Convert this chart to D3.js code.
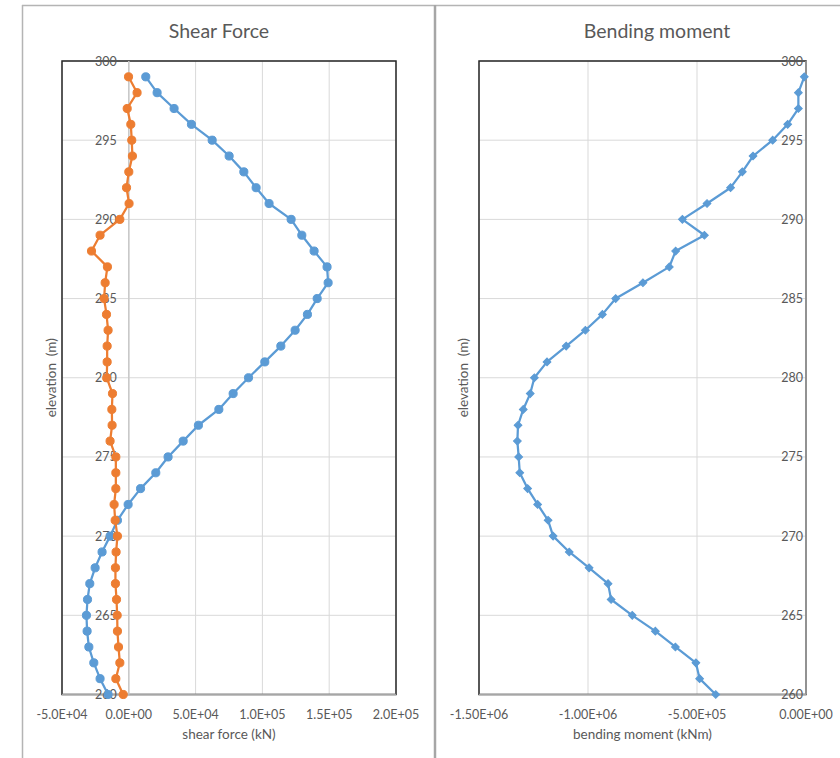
<!DOCTYPE html>
<html>
<head>
<meta charset="utf-8">
<script src="https://cdn.jsdelivr.net/npm/d3@7"></script>
<style>
  html, body { margin: 0; padding: 0; background: #fff; }
  svg { display: block; font-family: Lato, "Open Sans", sans-serif; }
</style>
</head>
<body>
<svg id="chart" width="840" height="758"></svg>
<script>
// Elevation of each computed station (m)
const elevations = [299, 298, 297, 296, 295, 294, 293, 292, 291, 290,
                    289, 288, 287, 286, 285, 284, 283, 282, 281, 280,
                    279, 278, 277, 276, 275, 274, 273, 272, 271, 270,
                    269, 268, 267, 266, 265, 264, 263, 262, 261, 260];

// Shear force along the wall (kN), two load cases
const shearBlue = [12700, 21200, 33900, 46900, 62400, 75100, 86100, 95300, 105000, 121500,
                   129500, 138700, 148400, 149200, 141000, 133700, 124500, 113800, 101800, 89600,
                   78100, 67400, 52100, 40700, 29400, 20200, 8800, -500, -8500, -14000,
                   -20000, -25200, -29200, -30900, -31700, -31200, -29900, -26200, -21500, -15500];

const shearOrange = [-200, 6200, -1200, 1500, 2200, 2700, 0, -1700, 200, -6700,
                     -21500, -27900, -16000, -17700, -18500, -16700, -15500, -16200, -16200, -16500,
                     -12200, -12700, -12500, -14000, -9700, -9700, -9700, -11000, -10200, -8500,
                     -9500, -10000, -10000, -9200, -8700, -8500, -7700, -6700, -9700, -4200];

// Bending moment along the wall (kNm)
const moment = [-7800, -35000, -35000, -84000, -153000, -243000, -292000, -346000, -454000, -567000,
                -466000, -598000, -627000, -748000, -873000, -934000, -1012000, -1100000, -1188000, -1246000,
                -1265000, -1297000, -1321000, -1324000, -1318000, -1313000, -1277000, -1231000, -1183000, -1160000,
                -1086000, -995000, -908000, -894000, -797000, -691000, -599000, -505000, -488000, -414000];

// Axis ticks
const elevationTicks = [260, 265, 270, 275, 280, 285, 290, 295, 300];
const shearTicks = [-50000, 0, 50000, 100000, 150000, 200000];
const shearTickLabels = ["-5.0E+04", "0.0E+00", "5.0E+04", "1.0E+05", "1.5E+05", "2.0E+05"];
const momentTicks = [-1500000, -1000000, -500000, 0];
const momentTickLabels = ["-1.50E+06", "-1.00E+06", "-5.00E+05", "0.00E+00"];

const BLUE = "#5B9BD5";
const ORANGE = "#ED7D31";
const TEXT = "#595959";
const GRID = "#d9d9d9";

const svg = d3.select("#chart");

// Outer chart frames
const frame = svg.append("g");
frame.append("line").attr("x1", 22.5).attr("x2", 22.5).attr("y1", 5).attr("y2", 758)
  .attr("stroke", "#b4b4b4").attr("stroke-width", 1.5);
frame.append("line").attr("x1", 22).attr("x2", 840).attr("y1", 5.5).attr("y2", 5.5)
  .attr("stroke", "#b4b4b4").attr("stroke-width", 1.5);
frame.append("line").attr("x1", 435).attr("x2", 435).attr("y1", 5).attr("y2", 758)
  .attr("stroke", "#a6a6a6").attr("stroke-width", 2.5);

function drawPanel(opts) {
  const g = svg.append("g");
  const x = d3.scaleLinear().domain(opts.xDomain).range([opts.left, opts.right]);
  const y = d3.scaleLinear().domain([260, 300]).range([opts.bottom, opts.top]);

  // title
  g.append("text").attr("x", opts.titleX).attr("y", 38)
    .attr("text-anchor", "middle").attr("fill", TEXT)
    .style("font-size", "19.5px").text(opts.title);

  // gridlines
  g.append("g").selectAll("line").data(opts.xTicks).join("line")
    .attr("x1", d => x(d)).attr("x2", d => x(d))
    .attr("y1", opts.top).attr("y2", opts.bottom)
    .attr("stroke", GRID).attr("stroke-width", 1);
  g.append("g").selectAll("line").data(elevationTicks).join("line")
    .attr("x1", opts.left).attr("x2", opts.right)
    .attr("y1", d => y(d)).attr("y2", d => y(d))
    .attr("stroke", GRID).attr("stroke-width", 1);

  // plot-area border
  g.append("rect").attr("x", opts.left).attr("y", opts.top)
    .attr("width", opts.right - opts.left).attr("height", opts.bottom - opts.top)
    .attr("fill", "none").attr("stroke", "#262626").attr("stroke-width", 1.5);

  // value axes (vertical axis sits at x = 0)
  g.append("line").attr("x1", opts.left).attr("x2", opts.right)
    .attr("y1", opts.bottom).attr("y2", opts.bottom)
    .attr("stroke", "#a6a6a6").attr("stroke-width", 1.5);
  g.append("line").attr("x1", x(0)).attr("x2", x(0))
    .attr("y1", opts.top).attr("y2", opts.bottom)
    .attr("stroke", opts.zeroAxisColor).attr("stroke-width", 1.5);

  // x tick labels
  g.append("g").selectAll("text").data(opts.xTicks).join("text")
    .attr("x", d => x(d)).attr("y", opts.bottom + 24)
    .attr("text-anchor", "middle").attr("fill", TEXT)
    .style("font-size", "12.5px")
    .text((d, i) => opts.xTickLabels[i]);

  // y tick labels next to the zero axis
  g.append("g").selectAll("text").data(elevationTicks).join("text")
    .attr("x", x(0) - opts.yLabelGap).attr("y", d => y(d) + 4.5)
    .attr("text-anchor", "end").attr("fill", TEXT)
    .style("font-size", "12.5px")
    .text(d => d);

  // axis titles
  g.append("text").attr("x", (opts.left + opts.right) / 2).attr("y", 739)
    .attr("text-anchor", "middle").attr("fill", TEXT)
    .style("font-size", "13.5px").text(opts.xTitle);
  g.append("text")
    .attr("transform", `translate(${opts.yTitleX},${(opts.top + opts.bottom) / 2}) rotate(-90)`)
    .attr("text-anchor", "middle").attr("fill", TEXT)
    .style("font-size", "13.5px").style("white-space", "pre").text("elevation  (m)");

  return { g, x, y };
}

// ---- Shear force panel ----
const shear = drawPanel({
  title: "Shear Force", titleX: 219,
  left: 62, right: 396, top: 61, bottom: 694.5,
  xDomain: [-50000, 200000], xTicks: shearTicks, xTickLabels: shearTickLabels,
  xTitle: "shear force (kN)", yTitleX: 56, yLabelGap: 12,
  zeroAxisColor: "#c8c8c8"
});

function drawSeries(panel, values, color, symbolType, symbolSize, angle) {
  const pts = elevations.map((e, i) => [panel.x(values[i]), panel.y(e)]);
  panel.g.append("path").datum(pts)
    .attr("d", d3.line())
    .attr("fill", "none").attr("stroke", color)
    .attr("stroke-width", 2.25).attr("stroke-linejoin", "round");
  panel.g.append("g").selectAll("path").data(pts).join("path")
    .attr("transform", d => `translate(${d[0]},${d[1]}) rotate(${angle})`)
    .attr("d", d3.symbol().type(symbolType).size(symbolSize))
    .attr("fill", color).attr("stroke", color).attr("stroke-width", 1);
}

drawSeries(shear, shearBlue, BLUE, d3.symbolCircle, 52, 0);
drawSeries(shear, shearOrange, ORANGE, d3.symbolCircle, 52, 0);

// ---- Bending moment panel ----
const bend = drawPanel({
  title: "Bending moment", titleX: 657,
  left: 479, right: 806, top: 61, bottom: 694.5,
  xDomain: [-1500000, 0], xTicks: momentTicks, xTickLabels: momentTickLabels,
  xTitle: "bending moment (kNm)", yTitleX: 468, yLabelGap: 3,
  zeroAxisColor: "#a6a6a6"
});

// diamond markers: squares turned by 45 degrees
drawSeries(bend, moment, BLUE, d3.symbolSquare, 30, 45);
</script>
</body>
</html>
